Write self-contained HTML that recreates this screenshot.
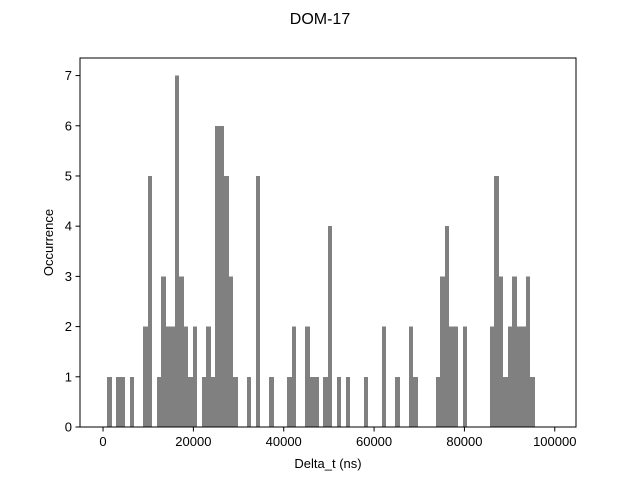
<!DOCTYPE html>
<html><head><meta charset="utf-8"><style>
body{margin:0;background:#fff;}
svg{display:block;font-family:"Liberation Sans","DejaVu Sans",sans-serif;}
</style></head><body>
<svg id="chart" width="640" height="480" xmlns="http://www.w3.org/2000/svg">
<rect x="0" y="0" width="640" height="480" fill="#fff"/>
<text x="320" y="24" text-anchor="middle" font-size="16" fill="#000">DOM-17</text>
<g id="bars" shape-rendering="crispEdges"></g>
<g id="axes"></g>
<text x="328" y="468" text-anchor="middle" font-size="13" fill="#000">Delta_t (ns)</text>
<text transform="translate(53,242.5) rotate(-90)" text-anchor="middle" font-size="13" fill="#000">Occurrence</text>
</svg>
<script>
const binStart = 900;
const binWidth = 996;
const binIndex = [0,2,3,5,8,9,11,12,13,14,15,16,17,18,19,21,22,23,24,25,26,27,28,31,33,36,40,41,44,45,46,48,49,51,53,57,61,64,67,68,73,74,75,76,77,79,85,86,87,88,89,90,91,92,93,94];
const binCount = [1,1,1,1,2,5,1,3,2,2,7,3,2,1,2,1,2,1,6,6,5,3,1,1,5,1,1,2,2,1,1,1,4,1,1,1,2,1,2,1,1,3,4,2,2,2,2,5,3,1,2,3,2,2,3,1];
const xTicks = [0,20000,40000,60000,80000,100000];
const yTicks = [0,1,2,3,4,5,6,7];

const L=80,T=58,W=496,H=369;
const xMin=-5100,xMax=104700,yMin=0,yMax=7.35;
const NS="http://www.w3.org/2000/svg";
function sx(v){return L+(v-xMin)/(xMax-xMin)*W;}
function sy(v){return T+H-(v-yMin)/(yMax-yMin)*H;}
function mk(tag,attrs,parent){const e=document.createElementNS(NS,tag);for(const k in attrs)e.setAttribute(k,attrs[k]);parent.appendChild(e);return e;}

const bars=document.getElementById('bars');
binIndex.forEach((b,i)=>{
  const x0=Math.round(sx(binStart+b*binWidth)),x1=Math.round(sx(binStart+(b+1)*binWidth));
  const r=mk('rect',{x:x0,y:sy(binCount[i]),width:x1-x0,height:sy(0)-sy(binCount[i]),fill:'#808080'},bars);
  
  
});

const ax=document.getElementById('axes');
const frame=mk('rect',{x:L,y:T,width:W,height:H,fill:'none',stroke:'#000','stroke-width':1},ax);


xTicks.forEach(v=>{
  const x=sx(v);
  const t=mk('line',{x1:x,x2:x,y1:T+H,y2:T+H+4.5,stroke:'#000','stroke-width':1},ax);
  
  
  const l=mk('text',{x:x,y:T+H+19,'text-anchor':'middle','font-size':13,fill:'#000'},ax);
  l.textContent=v;
  
  
});
yTicks.forEach(v=>{
  const y=sy(v);
  const t=mk('line',{x1:L-4.5,x2:L,y1:y,y2:y,stroke:'#000','stroke-width':1},ax);
  
  
  const l=mk('text',{x:L-8,y:y+4.5,'text-anchor':'end','font-size':13,fill:'#000'},ax);
  l.textContent=v;
  
  
});
</script>
</body></html>
